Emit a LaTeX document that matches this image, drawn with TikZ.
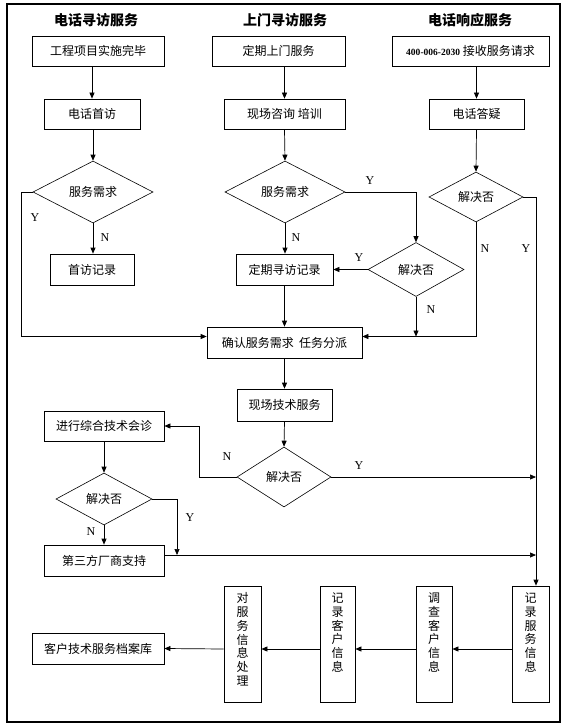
\documentclass[tikz,border=0pt]{standalone}
\usepackage{fontspec}
\usepackage{tikz}
\usetikzlibrary{arrows.meta,shapes.geometric}
\setmainfont{Liberation Serif}
\newfontfamily\cjk{Noto Sans CJK SC}

\begin{document}
\begin{tikzpicture}[x=1pt,y=-1pt,
  box/.style={draw,line width=0.7pt,inner sep=0pt,minimum height=30pt,font=\cjk\fontsize{12}{14}\selectfont},
  vbox/.style={draw,line width=0.7pt,inner sep=0pt,minimum height=116pt,align=center,font=\cjk\fontsize{12}{13.7}\selectfont},
  dia/.style={draw,diamond,aspect=2,inner sep=1pt,line width=0.6pt,font=\cjk\fontsize{12}{14}\selectfont},
  head/.style={font=\cjk\bfseries\fontsize{14}{16}\selectfont},
  yn/.style={font=\fontsize{12}{14}\selectfont},
  arr/.style={-{Triangle[length=6pt,width=5pt]},line width=0.7pt}]
  \useasboundingbox (0,0) rectangle (566,727);
  \draw[line width=1.8pt] (7,4) rectangle (560,722);
  % column heads
  \node[head] (h1) at (96,20) {电话寻访服务};
  \node[head] (h2) at (285,20) {上门寻访服务};
  \node[head] (h3) at (470,20) {电话响应服务};
  % first rows
  \node[box,minimum width=132pt] (s1) at (98,51) {工程项目实施完毕};
  \node[box,minimum width=133pt] (m1) at (278.5,51) {定期上门服务};
  \node[box,minimum width=157pt] (t1) at (470.5,51) {{\rmfamily\bfseries\fontsize{9.5}{12}\selectfont 400-006-2030} 接收服务请求};
  \node[box,minimum width=96pt] (s2) at (92,114) {电话首访};
  \node[box,minimum width=121pt] (m2) at (284.5,114) {现场咨询\ 培训};
  \node[box,minimum width=95pt] (t2) at (476.5,114) {电话答疑};
  \node[dia,minimum width=120pt,minimum height=62pt] (sd) at (93,192) {服务需求};
  \node[dia,minimum width=120pt,minimum height=62pt] (md) at (285,192) {服务需求};
  \node[dia,minimum width=94pt,minimum height=50pt] (td) at (476,197) {解决否};
  \node[dia,minimum width=96pt,minimum height=54pt] (xd) at (416,269.5) {解决否};
  \node[box,minimum width=84pt,minimum height=31pt] (s3) at (92,269.5) {首访记录};
  \node[box,minimum width=97pt,minimum height=31pt] (m3) at (284.5,269.5) {定期寻访记录};
  % middle part
  \node[box,minimum width=155pt,minimum height=31pt] (cf) at (284.5,342.5) {确认服务需求\ \ 任务分派};
  \node[box,minimum width=95pt,minimum height=32pt] (ts) at (284.5,405) {现场技术服务};
  \node[dia,minimum width=94pt,minimum height=60pt] (tsd) at (284,477) {解决否};
  \node[box,minimum width=120pt] (hz) at (104,426) {进行综合技术会诊};
  \node[dia,minimum width=96pt,minimum height=52pt] (hzd) at (104,499) {解决否};
  \node[box,minimum width=120pt,minimum height=31pt] (cs) at (104,560.5) {第三方厂商支持};
  % bottom row
  \node[vbox,minimum width=37pt,text depth=24pt] (jl) at (530.5,644) {记\\录\\服\\务\\信\\息};
  \node[vbox,minimum width=36pt,text depth=24pt] (dc) at (434,644) {调\\查\\客\\户\\信\\息};
  \node[vbox,minimum width=35pt,text depth=24pt] (kh) at (337.5,644) {记\\录\\客\\户\\信\\息};
  \node[vbox,minimum width=37pt,text depth=10pt] (cl) at (242.5,644) {对\\服\\务\\信\\息\\处\\理};
  \node[box,minimum width=132pt,minimum height=31pt] (da) at (98,648.5) {客户技术服务档案库};
  \coordinate (c1) at (416,336.5);
  \coordinate (c2) at (536,477);
  \coordinate (c3) at (536,555);
  \coordinate (c4) at (177,555);
  % connectors
  \draw[arr] (s2.north |- s1.south) -- (s2.north);
  \draw[arr] (sd.north |- s2.south) -- (sd.north);
  \draw[arr] (sd.south) -- (sd.south |- s3.north);
  \draw[arr] (sd.west) -- ++(-11,0) |- ([yshift=6pt]cf.west);
  \draw[arr] (m2.north |- m1.south) -- (m2.north);
  \draw[arr] (m2.south) -- (md.north);
  \draw[arr] (md.south) -- (md.south |- m3.north);
  \draw[arr] (md.east) -| (xd.north);
  \draw[arr] (xd.west) -- (m3.east);
  \draw[arr] (xd.south) -- (c1);
  \draw[arr] (m3.south) -- (cf.north);
  \draw[arr] (t2.north |- t1.south) -- (t2.north);
  \draw[arr] (t2.south) -- (td.north);
  \draw[arr] (td.south) |- ([yshift=6pt]cf.east);
  \draw[arr] (td.east) -| ([xshift=5.5pt]jl.north);
  \draw[arr] (cf.south) -- (ts.north);
  \draw[arr] (ts.south) -- (tsd.north);
  \draw[arr] (tsd.west) -- ++(-37,0) |- (hz.east);
  \draw[arr] (tsd.east) -- (c2);
  \draw[arr] (hz.south) -- (hzd.north);
  \draw[arr] (hzd.south) -- (cs.north);
  \draw[arr] (hzd.east) -| (c4);
  \draw[arr] ([yshift=5.5pt]cs.east) -- (c3);
  \draw[arr] ([yshift=-5pt]jl.west) -- ([yshift=-5pt]dc.east);
  \draw[arr] ([yshift=-5pt]dc.west) -- ([yshift=-5pt]kh.east);
  \draw[arr] ([yshift=-5pt]kh.west) -- ([yshift=-5pt]cl.east);
  \draw[arr] ([yshift=-5pt]cl.west) -- (da.east);
  % Y / N marks
  \foreach \t/\x/\y [count=\i] in {Y/35/218,N/105/238,Y/370/181,N/296/238,Y/359/258,N/431/310,
      N/485/249,Y/526/249,N/227/457,Y/359/466,N/91/532,Y/190/518}
    \node[yn] (lb\i) at (\x,\y) {\t};
\end{tikzpicture}
\end{document}
